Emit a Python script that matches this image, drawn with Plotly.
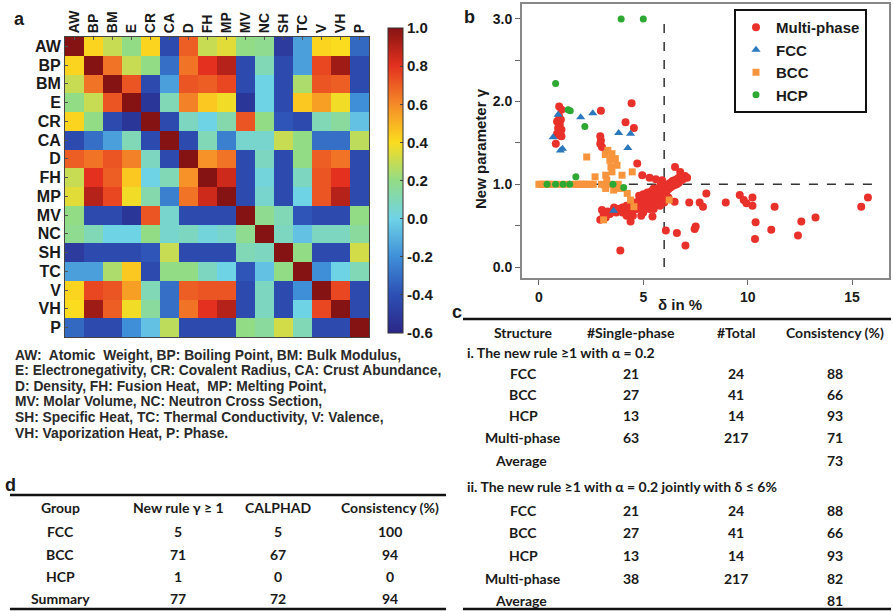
import plotly.graph_objects as go

W, H = 893, 611
def px(x): return x / W
def py(y): return 1 - y / H

# ---------------- data ----------------
labels = ["AW", "BP", "BM", "E", "CR", "CA", "D", "FH", "MP", "MV", "NC", "SH", "TC", "V", "VH", "P"]

corr_AW = [1.0, 0.42, 0.3, 0.2, 0.42, -0.42, 0.7, 0.3, 0.35, 0.2, 0.18, -0.5, -0.15, 0.42, 0.4, -0.32]
corr_BP = [0.42, 1.0, 0.65, 0.3, 0.2, -0.3, 0.65, 0.8, 0.9, -0.42, 0.1, -0.42, -0.15, 0.75, 0.95, -0.42]
corr_BM = [0.3, 0.65, 1.0, 0.72, -0.42, -0.15, 0.72, 0.7, 0.75, -0.42, 0.0, -0.42, 0.25, 0.72, 0.7, -0.42]
corr_E  = [0.2, 0.3, 0.72, 1.0, -0.52, 0.1, 0.62, 0.45, 0.38, -0.52, 0.0, -0.42, 0.45, 0.55, 0.38, -0.2]
corr_CR = [0.42, 0.2, -0.42, -0.52, 1.0, -0.42, 0.08, 0.0, 0.12, 0.72, 0.2, -0.38, -0.42, 0.1, 0.15, -0.05]
corr_CA = [-0.42, -0.3, -0.15, 0.1, -0.42, 1.0, -0.42, 0.1, -0.25, 0.05, 0.05, 0.3, 0.2, -0.3, -0.3, 0.28]
corr_D  = [0.7, 0.65, 0.72, 0.62, 0.08, -0.42, 1.0, 0.58, 0.65, -0.42, 0.08, -0.42, 0.2, 0.7, 0.65, -0.42]
corr_FH = [0.3, 0.8, 0.7, 0.45, 0.0, 0.1, 0.58, 1.0, 0.85, -0.42, 0.02, -0.42, 0.08, 0.72, 0.8, -0.42]
corr_MP = [0.35, 0.9, 0.75, 0.38, 0.12, -0.25, 0.65, 0.85, 1.0, -0.42, 0.05, -0.42, 0.0, 0.72, 0.9, -0.42]
corr_MV = [0.2, -0.42, -0.42, -0.52, 0.72, 0.05, -0.42, -0.42, -0.42, 1.0, 0.18, 0.1, -0.38, -0.42, -0.42, 0.2]
corr_NC = [0.18, 0.1, 0.0, 0.0, 0.2, 0.05, 0.08, 0.02, 0.05, 0.18, 1.0, 0.08, -0.05, 0.08, 0.08, 0.15]
corr_SH = [-0.5, -0.42, -0.42, -0.42, -0.38, 0.3, -0.42, -0.42, -0.42, 0.1, 0.08, 1.0, 0.2, -0.42, -0.42, 0.32]
corr_TC = [-0.15, -0.15, 0.25, 0.45, -0.42, 0.2, 0.2, 0.08, 0.0, -0.38, -0.05, 0.2, 1.0, -0.2, 0.0, 0.1]
corr_V  = [0.42, 0.75, 0.72, 0.55, 0.1, -0.3, 0.7, 0.72, 0.72, -0.42, 0.08, -0.42, -0.2, 1.0, 0.75, -0.42]
corr_VH = [0.4, 0.95, 0.7, 0.38, 0.15, -0.3, 0.65, 0.8, 0.9, -0.42, 0.08, -0.42, 0.0, 0.75, 1.0, -0.42]
corr_P  = [-0.32, -0.42, -0.42, -0.2, -0.05, 0.28, -0.42, -0.42, -0.42, 0.2, 0.15, 0.32, 0.1, -0.42, -0.42, 1.0]
corr = [corr_AW, corr_BP, corr_BM, corr_E, corr_CR, corr_CA, corr_D, corr_FH, corr_MP,
        corr_MV, corr_NC, corr_SH, corr_TC, corr_V, corr_VH, corr_P]

cbar_vals = [-0.6, -0.4, -0.2, 0.0, 0.2, 0.4, 0.6, 0.8, 1.0]
cbar_text = ["-0.6", "-0.4", "-0.2", "0.0", "0.2", "0.4", "0.6", "0.8", "1.0"]

multi_phase = [
    (0.97, 1.94), (1.08, 1.90), (0.97, 1.82), (0.87, 1.76), (1.00, 1.72), (0.92, 1.68), (1.08, 1.66),
    (0.87, 1.61), (1.00, 1.59), (1.08, 1.58), (0.81, 1.49), (1.05, 1.78), (0.95, 1.64),
    (2.97, 1.89), (2.94, 1.58), (2.97, 1.53), (2.94, 1.49), (3.02, 1.45),
    (4.15, 1.75), (4.44, 1.98), (4.55, 1.68),
    (4.71, 1.25), (4.95, 1.11), (5.30, 1.08), (5.60, 1.06), (5.90, 1.05), (6.52, 1.21), (6.77, 1.15), (6.83, 1.05),
    (3.02, 0.69), (3.10, 0.63), (2.94, 0.57), (3.20, 0.60), (3.30, 0.67),
    (3.7, 0.66), (3.8, 0.70), (3.9, 0.68), (4.0, 0.72), (4.0, 0.66), (4.1, 0.70), (4.2, 0.74), (4.2, 0.68),
    (4.3, 0.72), (4.3, 0.66), (4.4, 0.76), (4.4, 0.70), (4.5, 0.74), (4.5, 0.68), (4.6, 0.78), (4.6, 0.72),
    (4.7, 0.76), (4.7, 0.70), (4.8, 0.80), (4.8, 0.74), (4.8, 0.86), (4.9, 0.78), (4.9, 0.72), (5.0, 0.82),
    (5.0, 0.76), (5.0, 0.88), (5.1, 0.80), (5.1, 0.74), (5.2, 0.84), (5.2, 0.78), (5.2, 0.90), (5.3, 0.82),
    (5.3, 0.76), (5.4, 0.86), (5.4, 0.80), (5.4, 0.92), (5.5, 0.84), (5.5, 0.78), (5.5, 0.95), (5.6, 0.88),
    (5.6, 0.82), (5.6, 0.94), (5.7, 0.90), (5.7, 0.84), (5.7, 0.78), (5.8, 0.92), (5.8, 0.86), (5.8, 0.98),
    (5.9, 0.94), (5.9, 0.88), (5.9, 0.82), (6.0, 0.96), (6.0, 0.90), (6.0, 1.00), (6.1, 0.98), (6.1, 0.92),
    (6.1, 0.86), (6.2, 1.00), (6.2, 0.94), (6.3, 1.02), (6.3, 0.96), (6.4, 1.04), (6.4, 0.98), (6.5, 1.05),
    (6.5, 0.99), (6.6, 1.06), (6.6, 1.00), (6.7, 1.08), (6.7, 1.02), (6.8, 1.09), (6.9, 1.06), (7.0, 1.10),
    (7.1, 1.08), (4.5, 0.62), (5.0, 0.66), (5.3, 0.70), (4.2, 0.62), (3.6, 0.72), (3.4, 0.64), (5.8, 0.74),
    (6.0, 0.78), (6.2, 0.84), (5.5, 0.70), (4.9, 0.62),
    (3.90, 0.20), (4.39, 0.55), (5.44, 0.61), (6.08, 0.44), (6.61, 0.41), (7.02, 0.26), (6.50, 0.79),
    (7.20, 0.78), (7.46, 0.46), (7.51, 0.49), (7.70, 0.78), (7.86, 0.73), (8.02, 0.89), (8.95, 0.78),
    (9.62, 0.87), (9.81, 0.81), (9.94, 0.77), (10.23, 0.84), (10.23, 0.74), (10.38, 0.54), (10.35, 0.34),
    (11.29, 0.73), (11.13, 0.45), (12.41, 0.38), (12.57, 0.55), (13.25, 0.60), (15.44, 0.73), (15.76, 0.84),
]
fcc = [(0.68, 1.57), (0.92, 1.84), (1.03, 1.41), (1.13, 1.43), (2.00, 1.81), (2.58, 1.86),
       (3.82, 1.62), (4.39, 1.61), (4.26, 1.44), (1.48, 1.00), (3.58, 0.68)]
bcc = [(0.0, 1.0), (0.1, 1.0), (0.2, 1.0), (0.3, 1.0), (0.5, 1.0), (0.6, 1.0), (1.0, 1.0), (1.3, 1.0),
       (1.7, 1.0), (1.8, 1.0), (1.9, 1.0), (2.0, 1.0), (2.1, 1.0), (2.2, 1.0), (2.3, 1.0), (2.45, 1.0),
       (2.6, 1.0), (2.29, 1.33), (3.18, 1.36), (3.30, 1.41), (3.40, 1.29), (3.45, 1.21), (3.50, 1.15),
       (3.20, 1.11), (3.25, 1.05), (3.15, 0.99), (3.20, 0.95), (3.58, 0.93), (3.98, 1.11), (4.47, 1.15),
       (2.69, 1.09), (3.74, 1.23), (3.66, 1.31), (3.50, 1.37), (4.23, 0.89), (4.39, 0.81), (4.55, 0.73),
       (3.10, 0.57), (6.24, 0.81), (3.00, 1.00), (3.40, 1.00), (3.80, 1.00), (3.90, 0.95)]
hcp = [(3.94, 3.0), (5.0, 3.0), (0.8, 2.22), (1.4, 1.9), (1.5, 1.89), (2.2, 1.7), (1.77, 1.09),
       (0.39, 1.0), (0.8, 1.0), (1.16, 1.0), (1.48, 1.0), (3.55, 1.0), (4.06, 0.96)]

gamma_threshold = 1.0
delta_threshold = 6.0

abbrev_lines = [
    "AW:  Atomic  Weight, BP: Boiling Point, BM: Bulk Modulus,",
    "E: Electronegativity, CR: Covalent Radius, CA: Crust Abundance,",
    "D: Density, FH: Fusion Heat,  MP: Melting Point,",
    "MV: Molar Volume, NC: Neutron Cross Section,",
    "SH: Specific Heat, TC: Thermal Conductivity, V: Valence,",
    "VH: Vaporization Heat, P: Phase.",
]

c_header = ["Structure", "#Single-phase", "#Total", "Consistency (%)"]
c_section_i = "i. The new rule ≥1 with α = 0.2"
c_section_ii = "ii. The new rule ≥1 with α = 0.2 jointly with δ ≤ 6%"
c_structures = ["FCC", "BCC", "HCP", "Multi-phase"]
c_single_i = [21, 27, 13, 63]
c_total_i = [24, 41, 14, 217]
c_cons_i = [88, 66, 93, 71]
c_avg_i = 73
c_single_ii = [21, 27, 13, 38]
c_total_ii = [24, 41, 14, 217]
c_cons_ii = [88, 66, 93, 82]
c_avg_ii = 81

d_header = ["Group", "New rule γ ≥ 1", "CALPHAD", "Consistency (%)"]
d_groups = ["FCC", "BCC", "HCP", "Summary"]
d_newrule = [5, 71, 1, 77]
d_calphad = [5, 67, 0, 72]
d_consistency = [100, 94, 0, 94]

# ---------------- figure ----------------
jet = [[0.0, "#2a2786"], [0.125, "#2d4fb4"], [0.25, "#3f8fd8"], [0.375, "#6fd3e6"],
       [0.5, "#93dc86"], [0.625, "#fbdc1e"], [0.75, "#f58a28"], [0.875, "#e4311f"], [1.0, "#861313"]]

BOLD = dict(family="Liberation Sans, Arial", weight="bold", color="#1a1a1a")

fig = go.Figure()
fig.add_trace(go.Heatmap(
    z=corr, x=labels, y=labels, colorscale=jet, zmin=-0.6, zmax=1.0,
    xaxis="x", yaxis="y", showscale=True,
    colorbar=dict(x=px(388), xanchor="left", thickness=15, len=(333 - 28) / H, lenmode="fraction",
                  y=py(180.5), yanchor="middle", xpad=0, ypad=0,
                  tickvals=cbar_vals, ticktext=cbar_text, ticks="inside", ticklen=3,
                  tickfont=dict(size=15, **BOLD), outlinewidth=1, outlinecolor="#333"),
))

def xs(pts): return [p[0] for p in pts]
def ys(pts): return [p[1] for p in pts]

fig.add_trace(go.Scatter(x=xs(multi_phase), y=ys(multi_phase), mode="markers", name="Multi-phase",
                         xaxis="x2", yaxis="y2",
                         marker=dict(symbol="circle", size=8, color="#e8312a")))
fig.add_trace(go.Scatter(x=xs(fcc), y=ys(fcc), mode="markers", name="FCC", xaxis="x2", yaxis="y2",
                         marker=dict(symbol="triangle-up", size=8, color="#2b78bd")))
fig.add_trace(go.Scatter(x=xs(bcc), y=ys(bcc), mode="markers", name="BCC", xaxis="x2", yaxis="y2",
                         marker=dict(symbol="square", size=7, color="#f7943c")))
fig.add_trace(go.Scatter(x=xs(hcp), y=ys(hcp), mode="markers", name="HCP", xaxis="x2", yaxis="y2",
                         marker=dict(symbol="circle", size=7, color="#2ca833")))

shapes = [
    dict(type="line", xref="x2", yref="y2", x0=0, x1=16, y0=gamma_threshold, y1=gamma_threshold,
         line=dict(color="#333", width=1.5, dash="dash"), layer="below"),
    dict(type="line", xref="x2", yref="y2", x0=delta_threshold, x1=delta_threshold, y0=0, y1=3,
         line=dict(color="#333", width=1.5, dash="dash"), layer="below"),
    # table c rules
    dict(type="line", xref="paper", yref="paper", x0=px(463), x1=px(891), y0=py(319), y1=py(319),
         line=dict(color="#111", width=2.5)),
    dict(type="line", xref="paper", yref="paper", x0=px(463), x1=px(891), y0=py(609), y1=py(609),
         line=dict(color="#111", width=2.5)),
    # table d rules
    dict(type="line", xref="paper", yref="paper", x0=px(10), x1=px(446), y0=py(495), y1=py(495),
         line=dict(color="#111", width=2.5)),
    dict(type="line", xref="paper", yref="paper", x0=px(10), x1=px(446), y0=py(609), y1=py(609),
         line=dict(color="#111", width=2.5)),
]

ann = []
def text(x, y, s, size=14, fam="Liberation Sans, Arial", xanchor="center", color="#1a1a1a", angle=0, weight="bold"):
    ann.append(dict(x=px(x), y=py(y), xref="paper", yref="paper", text=s, showarrow=False,
                    xanchor=xanchor, yanchor="middle", textangle=angle,
                    font=dict(family=fam, size=size, weight=weight, color=color)))

# panel letters
text(19, 19, "a", size=18)
text(469, 17, "b", size=18)
text(457, 312, "c", size=18)
text(10, 485, "d", size=18)

# scatter axis titles
text(680, 304, "δ in %", size=15)
text(481, 148, "New parameter γ", size=15, angle=-90)

# abbreviations
for i, line in enumerate(abbrev_lines):
    text(13, 355 + i * 15.6, line, size=13.8, xanchor="left", color="#2a2a2a")

# table c
TF = "Lato, Open Sans, sans-serif"
c_cols = [523, 631, 736, 835]
for cx, h in zip(c_cols, c_header):
    text(cx, 332, h, size=14, fam=TF)
text(465, 352, c_section_i, size=14, fam=TF, xanchor="left")
rows_i = [373, 394, 415, 437]
for r, s, a, b, c in zip(rows_i, c_structures, c_single_i, c_total_i, c_cons_i):
    text(c_cols[0], r, s, size=14, fam=TF)
    text(c_cols[1], r, str(a), size=14, fam=TF)
    text(c_cols[2], r, str(b), size=14, fam=TF)
    text(c_cols[3], r, str(c), size=14, fam=TF)
text(c_cols[0] - 2, 460, "Average", size=14, fam=TF)
text(c_cols[3], 460, str(c_avg_i), size=14, fam=TF)
text(465, 486, c_section_ii, size=14, fam=TF, xanchor="left")
rows_ii = [510, 532, 555, 578]
for r, s, a, b, c in zip(rows_ii, c_structures, c_single_ii, c_total_ii, c_cons_ii):
    text(c_cols[0], r, s, size=14, fam=TF)
    text(c_cols[1], r, str(a), size=14, fam=TF)
    text(c_cols[2], r, str(b), size=14, fam=TF)
    text(c_cols[3], r, str(c), size=14, fam=TF)
text(c_cols[0] - 2, 600, "Average", size=14, fam=TF)
text(c_cols[3], 600, str(c_avg_ii), size=14, fam=TF)

# table d
d_cols = [60, 178, 278, 390]
for cx, h in zip(d_cols, d_header):
    text(cx, 508, h, size=14, fam=TF)
rows_d = [531, 554, 576, 598]
for r, g, a, b, c in zip(rows_d, d_groups, d_newrule, d_calphad, d_consistency):
    text(d_cols[0], r, g, size=14, fam=TF)
    text(d_cols[1], r, str(a), size=14, fam=TF)
    text(d_cols[2], r, str(b), size=14, fam=TF)
    text(d_cols[3], r, str(c), size=14, fam=TF)

fig.update_layout(
    width=W, height=H, margin=dict(l=0, r=0, t=0, b=0, pad=0),
    paper_bgcolor="white", plot_bgcolor="white",
    font=dict(family="Liberation Sans, Arial", color="#1a1a1a"),
    xaxis=dict(domain=[px(65), px(369)], anchor="y", side="top", tickangle=-90,
               tickmode="array", tickvals=labels,
               tickfont=dict(size=14, **BOLD), showline=True, mirror=True, linecolor="#444",
               linewidth=1, ticks="inside", ticklen=3, tickcolor="#555", showgrid=False, zeroline=False),
    yaxis=dict(domain=[py(337), py(37)], anchor="x", autorange="reversed",
               tickmode="array", tickvals=labels,
               tickfont=dict(size=16, **BOLD), showline=True, mirror=True, linecolor="#444",
               linewidth=1, ticks="inside", ticklen=3, tickcolor="#555", showgrid=False, zeroline=False),
    xaxis2=dict(domain=[px(522), px(889)], anchor="y2", range=[-0.81, 16.77],
                tickvals=[0, 5, 10, 15], ticks="outside", ticklen=5, tickcolor="#666",
                tickfont=dict(size=14, **BOLD), showline=True, mirror=True, linecolor="#888",
                linewidth=2, showgrid=False, zeroline=False),
    yaxis2=dict(domain=[py(278), py(4)], anchor="x2", range=[-0.133, 3.18],
                tickvals=[0, 0.5, 1, 1.5, 2, 2.5, 3], ticktext=["0.0", "", "1.0", "", "2.0", "", "3.0"],
                ticks="outside", ticklen=5, tickcolor="#666",
                tickfont=dict(size=14, **BOLD), showline=True, mirror=True, linecolor="#888",
                linewidth=2, showgrid=False, zeroline=False),
    legend=dict(x=px(734), y=py(9), xanchor="left", yanchor="top", bordercolor="#111", borderwidth=2,
                bgcolor="white", font=dict(size=15, **BOLD), tracegroupgap=0, itemwidth=30,
                entrywidth=112, entrywidthmode="pixels"),
    shapes=shapes, annotations=ann,
)

fig.write_html("out.html", config={"displayModeBar": False},
               post_script="document.body.style.margin='0';document.body.style.padding='0';")
